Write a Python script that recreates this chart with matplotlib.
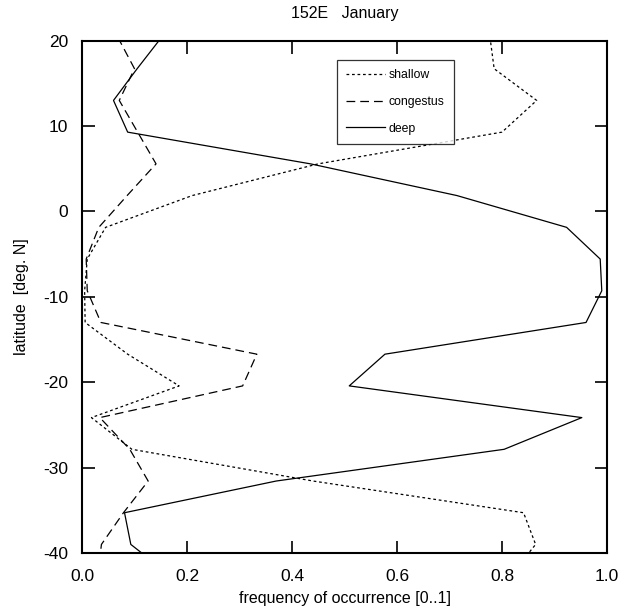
import numpy as np
import matplotlib
matplotlib.use("Agg")
from matplotlib import pyplot as plt

plt.rcParams['font.family'] = ['Liberation Sans', 'DejaVu Sans']
plt.rcParams['axes.unicode_minus'] = False

# Gaussian-grid latitudes (deg. N)
lat = [20.41, 16.70, 12.99, 9.28, 5.57, 1.86, -1.86, -5.57, -9.28,
       -12.99, -16.70, -20.41, -24.12, -27.83, -31.54, -35.25, -38.96, -42.67]

# frequency of occurrence
shallow = [0.777, 0.785, 0.866, 0.800, 0.45, 0.21, 0.045, 0.010, 0.005,
           0.006, 0.087, 0.185, 0.018, 0.095, 0.44, 0.841, 0.864, 0.815]
congestus = [0.068, 0.100, 0.071, 0.106, 0.141, 0.086, 0.032, 0.008, 0.010,
             0.036, 0.333, 0.306, 0.034, 0.091, 0.126, 0.079, 0.037, 0.030]
deep = [0.152, 0.105, 0.060, 0.087, 0.435, 0.714, 0.923, 0.987, 0.990,
        0.960, 0.577, 0.509, 0.952, 0.804, 0.370, 0.081, 0.093, 0.170]

xticks = [0.0, 0.2, 0.4, 0.6, 0.8, 1.0]
yticks = [20, 10, 0, -10, -20, -30, -40]

fig = plt.figure(figsize=(6.24, 6.11), dpi=100)
ax = fig.add_axes([0.1314, 0.0944, 0.8414, 0.8393])

ax.plot(shallow, lat, color='black', lw=0.9, dashes=(2.2, 2.2), label='shallow')
ax.plot(congestus, lat, color='black', lw=0.9, dashes=(7, 4), label='congestus')
ax.plot(deep, lat, color='black', lw=0.9, label='deep')

ax.set_xlim(0, 1)
ax.set_ylim(-40, 20)
ax.set_xticks(xticks)
ax.set_xticklabels(['%.1f' % v for v in xticks])
ax.set_yticks(yticks)
ax.set_yticklabels([str(v) for v in yticks])
ax.tick_params(direction='in', length=9, width=1.2, top=True, right=True,
               labelsize=12.5)
ax.tick_params(axis='x', pad=11)
ax.tick_params(axis='y', pad=10)
for s in ax.spines.values():
    s.set_linewidth(1.5)

ax.set_xlabel('frequency of occurrence [0..1]', fontsize=11.5, labelpad=5)
ax.set_ylabel('latitude  [deg. N]', fontsize=11.5, labelpad=10)
ax.set_title('152E   January', fontsize=11.5, pad=16)

leg = ax.legend(loc='upper left', bbox_to_anchor=(0.486, 0.9616),
                borderaxespad=0, fontsize=8.8,
                frameon=True, fancybox=False, edgecolor='black',
                handlelength=3.2, handletextpad=0.25, labelspacing=1.2,
                borderpad=0.75)
leg.get_frame().set_linewidth(0.9)

fig.savefig('out.png', dpi=100)
